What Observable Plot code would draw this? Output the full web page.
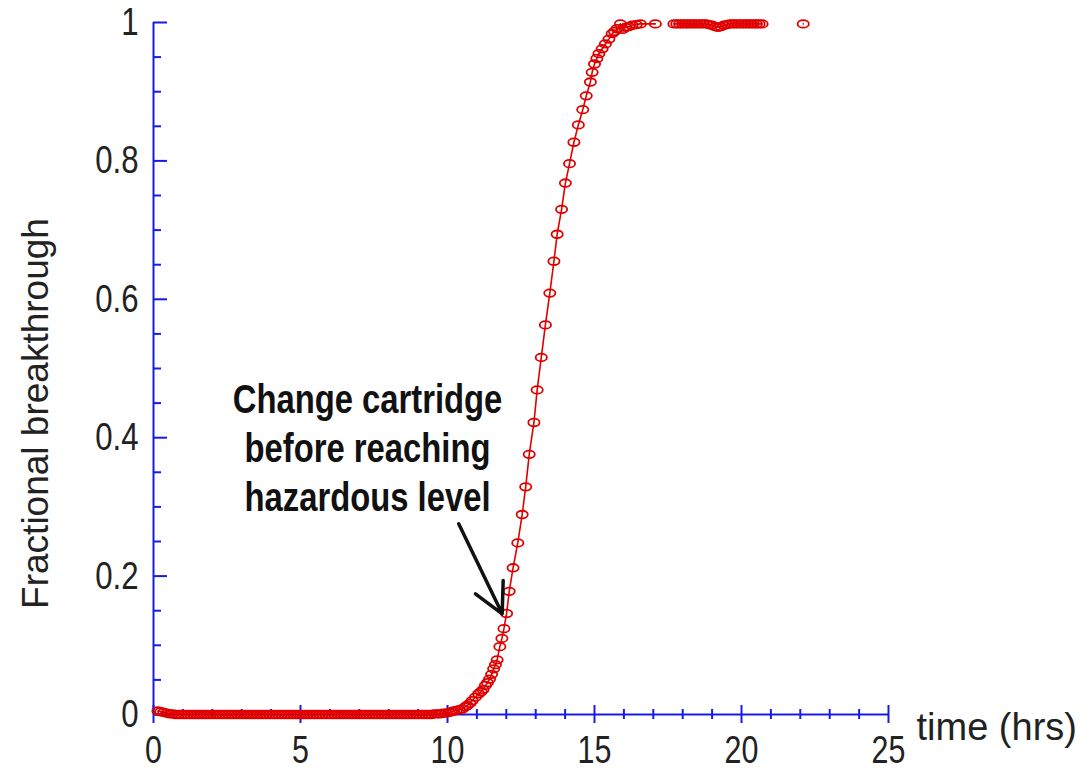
<!DOCTYPE html>
<html>
<head>
<meta charset="utf-8">
<script src="https://cdn.jsdelivr.net/npm/d3@7"></script>
<script src="https://cdn.jsdelivr.net/npm/@observablehq/plot@0.6"></script>
<style>
  html, body { margin: 0; padding: 0; background: #fff; }
  #chart svg { display: block; }
</style>
</head>
<body>
<div id="chart"></div>
<script>
// ---- data ----
const time = [
  0.15,0.25,0.35,0.45,0.55,0.65,0.75,0.85,0.95,1.05,
  1.15,1.25,1.35,1.45,1.55,1.65,1.75,1.85,1.95,2.05,
  2.15,2.25,2.35,2.45,2.55,2.65,2.75,2.85,2.95,3.05,
  3.15,3.25,3.35,3.45,3.55,3.65,3.75,3.85,3.95,4.05,
  4.15,4.25,4.35,4.45,4.55,4.65,4.75,4.85,4.95,5.05,
  5.15,5.25,5.35,5.45,5.55,5.65,5.75,5.85,5.95,6.05,
  6.15,6.25,6.35,6.45,6.55,6.65,6.75,6.85,6.95,7.05,
  7.15,7.25,7.35,7.45,7.55,7.65,7.75,7.85,7.95,8.05,
  8.15,8.25,8.35,8.45,8.55,8.65,8.75,8.85,8.95,9.05,
  9.15,9.25,9.35,9.45,9.55,9.65,9.75,9.85,9.95,
  10.05,10.13,10.21,10.3,10.4,10.5,10.6,10.67,10.76,10.84,10.95,11.06,11.14,11.21,11.29,11.36,11.43,11.5,
  11.57,11.63,11.69,11.78,11.85,11.92,12.01,12.10,12.23,12.39,12.54,12.66,12.78,12.94,13.05,13.19,13.33,
  13.48,13.62,13.73,13.88,14.01,14.15,14.30,14.45,14.60,14.72,14.86,14.92,15.0,15.08,15.15,15.26,15.37,
  15.49,15.6,15.68,15.77,15.88,15.96,16.05,16.17,16.28,16.42,16.56,17.07,
  17.4,
  17.7,17.8,17.9,18.0,18.1,18.2,18.3,18.4,18.5,18.6,18.7,18.8,18.9,19.0,19.1,19.2,
  19.3,19.4,19.5,19.6,19.7,19.8,19.9,20.0,20.1,20.2,20.3,20.4,20.5,20.6,20.7,
  21.4,
  22.1
];
const breakthrough = [
  0.005,0.004,0.003,0.002,0.001,0.001,0,0,0,0,
  0,0,0,0,0,0,0,0,0,0,
  0,0,0,0,0,0,0,0,0,0,
  0,0,0,0,0,0,0,0,0,0,
  0,0,0,0,0,0,0,0,0,0,
  0,0,0,0,0,0,0,0,0,0,
  0,0,0,0,0,0,0,0,0,0,
  0,0,0,0,0,0,0,0,0,0,
  0,0,0,0,0,0,0,0,0,0,
  0,0,0,0,0.001,0.001,0.001,0.002,0.002,
  0.003,0.004,0.005,0.006,0.007,0.008,0.011,0.013,0.016,0.020,0.025,0.030,0.033,0.036,0.042,0.046,0.051,0.058,
  0.066,0.072,0.079,0.098,0.110,0.124,0.146,0.178,0.212,0.248,0.289,0.329,0.376,0.422,0.469,0.516,0.563,
  0.609,0.655,0.694,0.730,0.768,0.796,0.827,0.852,0.874,0.894,0.914,0.928,0.940,0.948,0.955,0.962,0.969,
  0.976,0.984,0.987,0.991,0.998,0.990,0.993,0.994,0.996,0.997,0.998,0.998,
  null,
  0.998,0.998,0.998,0.998,0.998,0.998,0.998,0.998,0.998,0.998,0.998,0.998,0.997,0.996,0.994,0.993,
  0.994,0.996,0.997,0.998,0.998,0.998,0.998,0.998,0.998,0.998,0.998,0.998,0.998,0.998,0.998,
  null,
  0.998
];

const xMajorTicks = [0, 5, 10, 15, 20, 25];
const xMinorTicks = [1,2,3,4,6,7,8,9,11,12,13,14,16,17,18,19,21,22,23,24];
const yMajorTicks = [0, 0.2, 0.4, 0.6, 0.8, 1];
const yMinorTicks = [0.05,0.1,0.15,0.25,0.3,0.35,0.45,0.5,0.55,0.65,0.7,0.75,0.85,0.9,0.95];

const xLabel = "time (hrs)";
const yLabel = "Fractional breakthrough";
const noteText = "Change cartridge\nbefore reaching\nhazardous level";
const note = [{x: 7.28, y: 0.388, text: noteText}];
const arrowData = [{x1: 10.38, y1: 0.2756, x2: 11.86, y2: 0.1455}];

// ---- styling ----
const RED = "#e00000";
const BLUE = "#1a1ae6";
const FONT = "'Liberation Sans', Arial, sans-serif";
const CONDENSE = 0.8;

const data = time.map((t, i) => ({t, v: breakthrough[i]}));

// ellipse marker (wider than tall)
const ellipse = {
  draw(ctx, size) {
    const r = Math.sqrt(size / Math.PI);
    const rx = r * 1.22, ry = r * 0.82, k = 0.5523;
    ctx.moveTo(rx, 0);
    ctx.bezierCurveTo(rx, k * ry, k * rx, ry, 0, ry);
    ctx.bezierCurveTo(-k * rx, ry, -rx, k * ry, -rx, 0);
    ctx.bezierCurveTo(-rx, -k * ry, -k * rx, -ry, 0, -ry);
    ctx.bezierCurveTo(k * rx, -ry, rx, -k * ry, rx, 0);
    ctx.closePath();
  }
};

const chart = Plot.plot({
  width: 1092,
  height: 771,
  marginLeft: 153,
  marginRight: 204,
  marginTop: 22,
  marginBottom: 57,
  style: {background: "#fff", fontFamily: FONT},
  x: {domain: [0, 25], axis: null},
  y: {domain: [0, 1], axis: null},
  marks: [
    // axis lines
    Plot.ruleY([0], {x1: 0, x2: 25, stroke: BLUE, strokeWidth: 2}),
    Plot.ruleX([0], {y1: 0, y2: 1, stroke: BLUE, strokeWidth: 2}),
    // x ticks crossing the axis
    Plot.ruleX(xMinorTicks, {x: d => d, y1: 0, y2: 0, insetTop: 5, insetBottom: 5, stroke: BLUE, strokeWidth: 2}),
    Plot.ruleX(xMajorTicks, {x: d => d, y1: 0, y2: 0, insetTop: 9, insetBottom: 9, stroke: BLUE, strokeWidth: 2}),
    // y ticks pointing inward
    Plot.ruleY(yMinorTicks, {y: d => d, x1: 0, x2: 0, insetLeft: 0, insetRight: -8, stroke: BLUE, strokeWidth: 2}),
    Plot.ruleY(yMajorTicks, {y: d => d, x1: 0, x2: 0, insetLeft: 0, insetRight: -14, stroke: BLUE, strokeWidth: 2}),
    // tick labels
    Plot.text(xMajorTicks, {x: d => d, y: 0, text: d => String(d), dy: 22, textAnchor: "middle", lineAnchor: "top",
      fontSize: 38, fontFamily: FONT, fill: "#222"}),
    Plot.text(yMajorTicks, {x: 0, y: d => d, text: d => String(d), dx: -15, textAnchor: "end", lineAnchor: "middle",
      fontSize: 39, fontFamily: FONT, fill: "#222"}),
    // axis titles
    Plot.text([xLabel], {x: 25, y: 0, text: d => d, dx: 28, dy: 25, textAnchor: "start", lineAnchor: "bottom",
      fontSize: 38, fontFamily: FONT, fill: "#222"}),
    Plot.text([yLabel], {frameAnchor: "left", text: d => d, dx: -106, dy: 45, rotate: -90, textAnchor: "middle",
      lineAnchor: "bottom", fontSize: 37, fontFamily: FONT, fill: "#222"}),
    // data
    Plot.line(data, {x: "t", y: "v", stroke: RED, strokeWidth: 1.6}),
    Plot.dot(data, {x: "t", y: "v", r: 4.6, symbol: ellipse, stroke: RED, strokeWidth: 1.8, fill: "none"}),
    // annotation
    Plot.text(note, {x: "x", y: "y", text: "text", textAnchor: "middle", lineAnchor: "middle", lineHeight: 1.2,
      fontSize: 41, fontWeight: "bold", fontFamily: FONT, fill: "#111"}),
    Plot.arrow(arrowData, {x1: "x1", y1: "y1", x2: "x2", y2: "y2", stroke: "#111", strokeWidth: 3.5,
      headLength: 18, headAngle: 55})
  ]
});

// narrow the tick labels and the annotation (the reference uses a condensed face)
function condense(t, k) {
  const tr = t.getAttribute("transform");
  if (tr && tr.includes("translate")) t.setAttribute("transform", `${tr} scale(${k},1)`);
}
Array.from(chart.querySelectorAll("text"))
  .filter(t => t.textContent !== xLabel && t.textContent !== yLabel)
  .forEach(t => condense(t, CONDENSE));

document.getElementById("chart").append(chart);
</script>
</body>
</html>
